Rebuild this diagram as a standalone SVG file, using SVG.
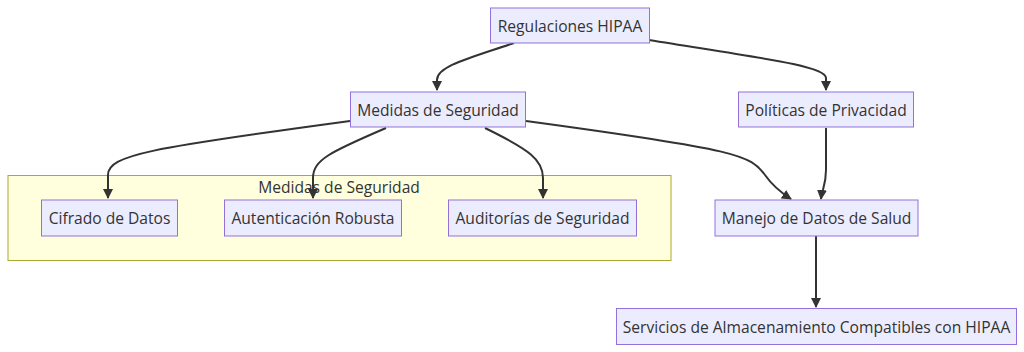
<svg xmlns="http://www.w3.org/2000/svg" width="1024" height="352" viewBox="0 0 1024 352">
<style>
.node rect{fill:#ECECFF;stroke:#9370DB;stroke-width:1}
.cluster rect{fill:#ffffde;stroke:#aaaa33;stroke-width:1}
text{font-family:"Open Sans","DejaVu Sans",sans-serif;font-size:15.6px;fill:#333;text-anchor:middle;dominant-baseline:central}
.edge{fill:none;stroke:#333;stroke-width:2;marker-end:url(#arr)}
</style>
<defs>
<marker id="arr" viewBox="0 0 10 10" refX="9" refY="5" markerWidth="10" markerHeight="10" markerUnits="userSpaceOnUse" orient="auto">
<path d="M0,0 L10,5 L0,10 z" fill="#333"/>
</marker>
</defs>
<rect width="1024" height="352" fill="#fff"/>
<g id="cluster-medidas" class="cluster">
<rect x="8" y="175.5" width="663" height="85"/>
<text x="339" y="187">Medidas de Seguridad</text>
</g>
<g id="connectors">
<path class="edge" d="M514,43 C470,58 437,66 437,80 L437,90"/>
<path class="edge" d="M649,40 C760,58 826,66 826,78 L826,90"/>
<path class="edge" d="M350,121 C150,148 108,155 108,175 L108,198"/>
<path class="edge" d="M386,128 C330,152 313,160 313,178 L313,198"/>
<path class="edge" d="M485,128 C530,150 543,160 543,178 L543,198"/>
<path class="edge" d="M526,121 C740,150 750,155 765,175 C772,185 780,192 791,199"/>
<path class="edge" d="M826,128 L826,170 C826,185 822,190 821,199"/>
<path class="edge" d="M816,236 L816,307"/>
</g>
<g id="node-regulaciones" class="node"><rect x="490.5" y="8" width="159" height="35"/><text x="570" y="25.5">Regulaciones HIPAA</text></g>
<g id="node-medidas" class="node"><rect x="350.5" y="92" width="175" height="35"/><text x="438" y="109.5">Medidas de Seguridad</text></g>
<g id="node-politicas" class="node"><rect x="738.5" y="92" width="175" height="35"/><text x="826" y="109.5">Políticas de Privacidad</text></g>
<g id="node-cifrado" class="node"><rect x="41.5" y="200" width="136" height="36"/><text x="109.5" y="218">Cifrado de Datos</text></g>
<g id="node-autenticacion" class="node"><rect x="224.5" y="200" width="177" height="36"/><text x="313" y="218">Autenticación Robusta</text></g>
<g id="node-auditorias" class="node"><rect x="448.5" y="200" width="188" height="36"/><text x="542.5" y="218">Auditorías de Seguridad</text></g>
<g id="node-manejo" class="node"><rect x="715" y="200" width="203" height="36"/><text x="816.5" y="218">Manejo de Datos de Salud</text></g>
<g id="node-servicios" class="node"><rect x="616.5" y="308.5" width="400" height="36"/><text x="816.5" y="326.5">Servicios de Almacenamiento Compatibles con HIPAA</text></g>
</svg>
